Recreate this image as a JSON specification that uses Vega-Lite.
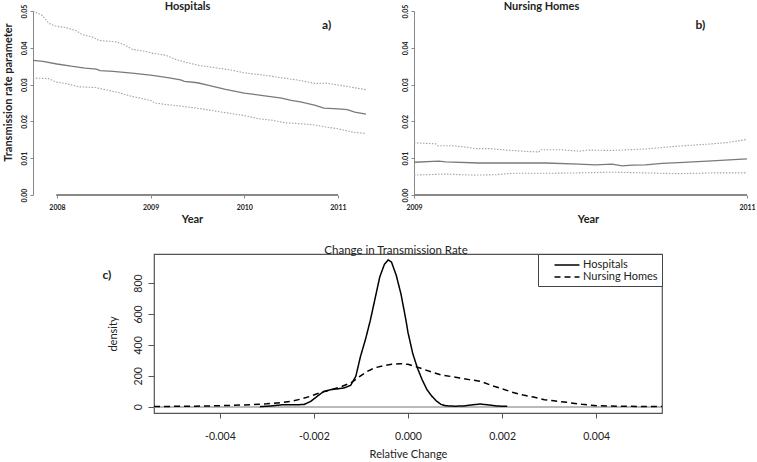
{
  "$schema": "https://vega.github.io/schema/vega-lite/v6.json",
  "padding": {"left": 2, "top": 0, "right": 0, "bottom": 0},
  "autosize": {"type": "pad"},
  "background": "white",
  "config": {
    "font": "Lato",
    "view": {"stroke": null},
    "axis": {"grid": false, "labelColor": "#222", "titleColor": "#222", "domainColor": "#888", "tickColor": "#888", "labelOverlap": false, "labelFlush": false, "labelBound": false, "tickCount": 20},
    "title": {"fontSize": 11, "fontWeight": "bold", "color": "#222", "offset": -7.5}
  },
  "datasets": {
    "hosp": [
      {"year": 2007.744, "value": 0.0366, "series": "mean"},
      {"year": 2007.85, "value": 0.0363, "series": "mean"},
      {"year": 2008.0, "value": 0.0356, "series": "mean"},
      {"year": 2008.15, "value": 0.035, "series": "mean"},
      {"year": 2008.3, "value": 0.0345, "series": "mean"},
      {"year": 2008.42, "value": 0.0342, "series": "mean"},
      {"year": 2008.46, "value": 0.0338, "series": "mean"},
      {"year": 2008.6, "value": 0.0336, "series": "mean"},
      {"year": 2008.8, "value": 0.0331, "series": "mean"},
      {"year": 2009.0, "value": 0.0326, "series": "mean"},
      {"year": 2009.2, "value": 0.0318, "series": "mean"},
      {"year": 2009.32, "value": 0.0313, "series": "mean"},
      {"year": 2009.36, "value": 0.0309, "series": "mean"},
      {"year": 2009.5, "value": 0.0305, "series": "mean"},
      {"year": 2009.62, "value": 0.0298, "series": "mean"},
      {"year": 2009.8, "value": 0.0287, "series": "mean"},
      {"year": 2010.0, "value": 0.0277, "series": "mean"},
      {"year": 2010.2, "value": 0.027, "series": "mean"},
      {"year": 2010.4, "value": 0.0263, "series": "mean"},
      {"year": 2010.5, "value": 0.0257, "series": "mean"},
      {"year": 2010.6, "value": 0.0253, "series": "mean"},
      {"year": 2010.75, "value": 0.0244, "series": "mean"},
      {"year": 2010.85, "value": 0.0236, "series": "mean"},
      {"year": 2011.0, "value": 0.0234, "series": "mean"},
      {"year": 2011.1, "value": 0.0232, "series": "mean"},
      {"year": 2011.18, "value": 0.0225, "series": "mean"},
      {"year": 2011.3, "value": 0.022, "series": "mean"},
      {"year": 2007.744, "value": 0.05, "series": "upper"},
      {"year": 2007.843, "value": 0.0488, "series": "upper"},
      {"year": 2007.915, "value": 0.0466, "series": "upper"},
      {"year": 2007.986, "value": 0.0459, "series": "upper"},
      {"year": 2008.09, "value": 0.0455, "series": "upper"},
      {"year": 2008.2, "value": 0.0447, "series": "upper"},
      {"year": 2008.27, "value": 0.0436, "series": "upper"},
      {"year": 2008.38, "value": 0.0429, "series": "upper"},
      {"year": 2008.45, "value": 0.042, "series": "upper"},
      {"year": 2008.63, "value": 0.0416, "series": "upper"},
      {"year": 2008.73, "value": 0.0407, "series": "upper"},
      {"year": 2008.8, "value": 0.0396, "series": "upper"},
      {"year": 2008.95, "value": 0.039, "series": "upper"},
      {"year": 2009.0, "value": 0.0386, "series": "upper"},
      {"year": 2009.16, "value": 0.038, "series": "upper"},
      {"year": 2009.27, "value": 0.0368, "series": "upper"},
      {"year": 2009.37, "value": 0.0361, "series": "upper"},
      {"year": 2009.52, "value": 0.0352, "series": "upper"},
      {"year": 2009.69, "value": 0.0346, "series": "upper"},
      {"year": 2009.87, "value": 0.0339, "series": "upper"},
      {"year": 2010.0, "value": 0.0332, "series": "upper"},
      {"year": 2010.23, "value": 0.0325, "series": "upper"},
      {"year": 2010.41, "value": 0.0318, "series": "upper"},
      {"year": 2010.58, "value": 0.0312, "series": "upper"},
      {"year": 2010.76, "value": 0.0303, "series": "upper"},
      {"year": 2010.87, "value": 0.0304, "series": "upper"},
      {"year": 2011.0, "value": 0.0299, "series": "upper"},
      {"year": 2011.12, "value": 0.0294, "series": "upper"},
      {"year": 2011.3, "value": 0.0286, "series": "upper"},
      {"year": 2007.744, "value": 0.0318, "series": "lower"},
      {"year": 2007.915, "value": 0.0316, "series": "lower"},
      {"year": 2007.986, "value": 0.0307, "series": "lower"},
      {"year": 2008.09, "value": 0.0303, "series": "lower"},
      {"year": 2008.235, "value": 0.0294, "series": "lower"},
      {"year": 2008.41, "value": 0.0292, "series": "lower"},
      {"year": 2008.63, "value": 0.028, "series": "lower"},
      {"year": 2008.8, "value": 0.0268, "series": "lower"},
      {"year": 2009.0, "value": 0.0257, "series": "lower"},
      {"year": 2009.05, "value": 0.025, "series": "lower"},
      {"year": 2009.16, "value": 0.0246, "series": "lower"},
      {"year": 2009.34, "value": 0.0241, "series": "lower"},
      {"year": 2009.52, "value": 0.0235, "series": "lower"},
      {"year": 2009.69, "value": 0.0228, "series": "lower"},
      {"year": 2009.87, "value": 0.0221, "series": "lower"},
      {"year": 2010.0, "value": 0.0216, "series": "lower"},
      {"year": 2010.16, "value": 0.0207, "series": "lower"},
      {"year": 2010.3, "value": 0.0203, "series": "lower"},
      {"year": 2010.44, "value": 0.0196, "series": "lower"},
      {"year": 2010.58, "value": 0.0194, "series": "lower"},
      {"year": 2010.73, "value": 0.0191, "series": "lower"},
      {"year": 2010.87, "value": 0.0185, "series": "lower"},
      {"year": 2011.0, "value": 0.018, "series": "lower"},
      {"year": 2011.15, "value": 0.0171, "series": "lower"},
      {"year": 2011.3, "value": 0.0167, "series": "lower"}
    ],
    "nh": [
      {"year": 2009.0, "value": 0.0142, "series": "upper"},
      {"year": 2009.13, "value": 0.0139, "series": "upper"},
      {"year": 2009.14, "value": 0.0134, "series": "upper"},
      {"year": 2009.23, "value": 0.0134, "series": "upper"},
      {"year": 2009.33, "value": 0.0129, "series": "upper"},
      {"year": 2009.37, "value": 0.0126, "series": "upper"},
      {"year": 2009.45, "value": 0.0126, "series": "upper"},
      {"year": 2009.59, "value": 0.0121, "series": "upper"},
      {"year": 2009.69, "value": 0.0118, "series": "upper"},
      {"year": 2009.75, "value": 0.0117, "series": "upper"},
      {"year": 2009.76, "value": 0.0123, "series": "upper"},
      {"year": 2009.89, "value": 0.0123, "series": "upper"},
      {"year": 2009.99, "value": 0.0119, "series": "upper"},
      {"year": 2010.05, "value": 0.0122, "series": "upper"},
      {"year": 2010.19, "value": 0.0121, "series": "upper"},
      {"year": 2010.39, "value": 0.0125, "series": "upper"},
      {"year": 2010.49, "value": 0.0129, "series": "upper"},
      {"year": 2010.59, "value": 0.0133, "series": "upper"},
      {"year": 2010.69, "value": 0.0136, "series": "upper"},
      {"year": 2010.79, "value": 0.0139, "series": "upper"},
      {"year": 2010.89, "value": 0.0143, "series": "upper"},
      {"year": 2011.0, "value": 0.0151, "series": "upper"},
      {"year": 2009.0, "value": 0.0089, "series": "mean"},
      {"year": 2009.15, "value": 0.0092, "series": "mean"},
      {"year": 2009.19, "value": 0.009, "series": "mean"},
      {"year": 2009.39, "value": 0.0087, "series": "mean"},
      {"year": 2009.59, "value": 0.0087, "series": "mean"},
      {"year": 2009.79, "value": 0.0087, "series": "mean"},
      {"year": 2009.99, "value": 0.0084, "series": "mean"},
      {"year": 2010.09, "value": 0.0082, "series": "mean"},
      {"year": 2010.19, "value": 0.0084, "series": "mean"},
      {"year": 2010.25, "value": 0.0079, "series": "mean"},
      {"year": 2010.31, "value": 0.0081, "series": "mean"},
      {"year": 2010.39, "value": 0.0082, "series": "mean"},
      {"year": 2010.49, "value": 0.0086, "series": "mean"},
      {"year": 2010.59, "value": 0.0088, "series": "mean"},
      {"year": 2010.79, "value": 0.0093, "series": "mean"},
      {"year": 2011.0, "value": 0.0098, "series": "mean"},
      {"year": 2009.0, "value": 0.0054, "series": "lower"},
      {"year": 2009.19, "value": 0.0057, "series": "lower"},
      {"year": 2009.35, "value": 0.0054, "series": "lower"},
      {"year": 2009.49, "value": 0.0055, "series": "lower"},
      {"year": 2009.59, "value": 0.0059, "series": "lower"},
      {"year": 2009.79, "value": 0.0059, "series": "lower"},
      {"year": 2009.99, "value": 0.006, "series": "lower"},
      {"year": 2010.19, "value": 0.0062, "series": "lower"},
      {"year": 2010.39, "value": 0.006, "series": "lower"},
      {"year": 2010.59, "value": 0.0058, "series": "lower"},
      {"year": 2010.79, "value": 0.006, "series": "lower"},
      {"year": 2011.0, "value": 0.006, "series": "lower"}
    ],
    "dens": [
      {"change": -0.00315, "density": 0, "series": "Hospitals"},
      {"change": -0.0029, "density": 5, "series": "Hospitals"},
      {"change": -0.00264, "density": 13, "series": "Hospitals"},
      {"change": -0.0024, "density": 12, "series": "Hospitals"},
      {"change": -0.00221, "density": 14, "series": "Hospitals"},
      {"change": -0.00207, "density": 34, "series": "Hospitals"},
      {"change": -0.00193, "density": 67, "series": "Hospitals"},
      {"change": -0.00179, "density": 99, "series": "Hospitals"},
      {"change": -0.00165, "density": 110, "series": "Hospitals"},
      {"change": -0.0015, "density": 115, "series": "Hospitals"},
      {"change": -0.00135, "density": 122, "series": "Hospitals"},
      {"change": -0.00122, "density": 138, "series": "Hospitals"},
      {"change": -0.00111, "density": 196, "series": "Hospitals"},
      {"change": -0.00101, "density": 325, "series": "Hospitals"},
      {"change": -0.0009, "density": 440, "series": "Hospitals"},
      {"change": -0.0008, "density": 560, "series": "Hospitals"},
      {"change": -0.0007, "density": 700, "series": "Hospitals"},
      {"change": -0.0006, "density": 840, "series": "Hospitals"},
      {"change": -0.0005, "density": 922, "series": "Hospitals"},
      {"change": -0.00042, "density": 950, "series": "Hospitals"},
      {"change": -0.00035, "density": 935, "series": "Hospitals"},
      {"change": -0.00025, "density": 850, "series": "Hospitals"},
      {"change": -0.00015, "density": 730, "series": "Hospitals"},
      {"change": -0.00005, "density": 570, "series": "Hospitals"},
      {"change": 0.0, "density": 480, "series": "Hospitals"},
      {"change": 0.0001, "density": 345, "series": "Hospitals"},
      {"change": 0.0002, "density": 250, "series": "Hospitals"},
      {"change": 0.0003, "density": 175, "series": "Hospitals"},
      {"change": 0.0004, "density": 112, "series": "Hospitals"},
      {"change": 0.0005, "density": 70, "series": "Hospitals"},
      {"change": 0.0006, "density": 38, "series": "Hospitals"},
      {"change": 0.0007, "density": 15, "series": "Hospitals"},
      {"change": 0.0008, "density": 6, "series": "Hospitals"},
      {"change": 0.001, "density": 3, "series": "Hospitals"},
      {"change": 0.0012, "density": 5, "series": "Hospitals"},
      {"change": 0.0014, "density": 13, "series": "Hospitals"},
      {"change": 0.00154, "density": 17, "series": "Hospitals"},
      {"change": 0.00175, "density": 10, "series": "Hospitals"},
      {"change": 0.0019, "density": 4, "series": "Hospitals"},
      {"change": 0.00211, "density": 2, "series": "Hospitals"},
      {"change": -0.0054, "density": 1, "series": "Nursing Homes"},
      {"change": -0.005, "density": 2, "series": "Nursing Homes"},
      {"change": -0.0045, "density": 3, "series": "Nursing Homes"},
      {"change": -0.00405, "density": 6, "series": "Nursing Homes"},
      {"change": -0.0037, "density": 9, "series": "Nursing Homes"},
      {"change": -0.00334, "density": 13, "series": "Nursing Homes"},
      {"change": -0.003, "density": 19, "series": "Nursing Homes"},
      {"change": -0.00264, "density": 28, "series": "Nursing Homes"},
      {"change": -0.00245, "density": 37, "series": "Nursing Homes"},
      {"change": -0.00228, "density": 49, "series": "Nursing Homes"},
      {"change": -0.0021, "density": 65, "series": "Nursing Homes"},
      {"change": -0.00193, "density": 84, "series": "Nursing Homes"},
      {"change": -0.00175, "density": 100, "series": "Nursing Homes"},
      {"change": -0.00158, "density": 114, "series": "Nursing Homes"},
      {"change": -0.0014, "density": 132, "series": "Nursing Homes"},
      {"change": -0.00122, "density": 153, "series": "Nursing Homes"},
      {"change": -0.00105, "density": 190, "series": "Nursing Homes"},
      {"change": -0.00087, "density": 228, "series": "Nursing Homes"},
      {"change": -0.0007, "density": 252, "series": "Nursing Homes"},
      {"change": -0.00051, "density": 266, "series": "Nursing Homes"},
      {"change": -0.00035, "density": 274, "series": "Nursing Homes"},
      {"change": -0.00016, "density": 278, "series": "Nursing Homes"},
      {"change": 0.0, "density": 274, "series": "Nursing Homes"},
      {"change": 0.00014, "density": 262, "series": "Nursing Homes"},
      {"change": 0.0003, "density": 245, "series": "Nursing Homes"},
      {"change": 0.0005, "density": 225, "series": "Nursing Homes"},
      {"change": 0.0007, "density": 206, "series": "Nursing Homes"},
      {"change": 0.0009, "density": 196, "series": "Nursing Homes"},
      {"change": 0.0011, "density": 185, "series": "Nursing Homes"},
      {"change": 0.0013, "density": 175, "series": "Nursing Homes"},
      {"change": 0.00154, "density": 164, "series": "Nursing Homes"},
      {"change": 0.00175, "density": 140, "series": "Nursing Homes"},
      {"change": 0.00196, "density": 120, "series": "Nursing Homes"},
      {"change": 0.0022, "density": 95, "series": "Nursing Homes"},
      {"change": 0.00245, "density": 75, "series": "Nursing Homes"},
      {"change": 0.00267, "density": 62, "series": "Nursing Homes"},
      {"change": 0.0029, "density": 45, "series": "Nursing Homes"},
      {"change": 0.0031, "density": 38, "series": "Nursing Homes"},
      {"change": 0.00338, "density": 28, "series": "Nursing Homes"},
      {"change": 0.0037, "density": 15, "series": "Nursing Homes"},
      {"change": 0.00402, "density": 6, "series": "Nursing Homes"},
      {"change": 0.0045, "density": 3, "series": "Nursing Homes"},
      {"change": 0.005, "density": 1, "series": "Nursing Homes"},
      {"change": 0.0054, "density": 1, "series": "Nursing Homes"}
    ]
  },
  "vconcat": [
    {
      "hconcat": [
        {
          "width": 333,
          "height": 184,
          "title": {"text": "Hospitals", "dx": -12},
          "data": {"name": "hosp"},
          "encoding": {
            "x": {"field": "year", "type": "quantitative", "scale": {"domain": [2007.744, 2011.3], "nice": false, "zero": false},
              "axis": {"values": [2008, 2009, 2010, 2011], "tickCount": 20, "format": "d", "labelOverlap": false, "labelFontSize": 7, "labelFontWeight": "bold", "tickSize": 3, "labelPadding": 5, "domain": false, "title": "Year", "titleFontSize": 11, "titleFontWeight": "bold", "titlePadding": 3, "titleX": 159}},
            "y": {"field": "value", "type": "quantitative", "scale": {"domain": [0, 0.05], "nice": false},
              "axis": {"values": [0, 0.01, 0.02, 0.03, 0.04, 0.05], "tickCount": 20, "format": ".2f", "labelOverlap": false, "labelAngle": -90, "labelAlign": "center", "labelBaseline": "bottom", "labelFontSize": 7, "labelFontWeight": "bold", "tickSize": 3, "labelPadding": 2.5, "title": "Transmission rate parameter", "titleFontSize": 11, "titleFontWeight": "bold", "titlePadding": 7.5, "titleY": 81}}
          },
          "layer": [
            {
              "transform": [{"filter": "datum.series != 'mean'"}],
              "mark": {"type": "line", "strokeWidth": 1.1, "color": "#a3a3a3", "strokeDash": [1.5, 1.5]},
              "encoding": {"detail": {"field": "series", "type": "nominal"}}
            },
            {
              "transform": [{"filter": "datum.series == 'mean'"}],
              "mark": {"type": "line", "strokeWidth": 1.3, "color": "#7a7a7a"},
              "encoding": {}
            },
            {
              "mark": {"type": "rule", "color": "#888"},
              "encoding": {"x": {"datum": 2008, "type": "quantitative"}, "x2": {"datum": 2011}, "y": {"datum": 0, "type": "quantitative"}}
            },
            {
              "data": {"values": [{"year": 2010.88, "value": 0.0462, "lbl": "a)"}]},
              "mark": {"type": "text", "fontSize": 12, "fontWeight": "bold", "color": "#222"},
              "encoding": {"text": {"field": "lbl"}}
            }
          ]
        },
        {
          "width": 333,
          "height": 184,
          "title": {"text": "Nursing Homes", "dx": -39},
          "data": {"name": "nh"},
          "encoding": {
            "x": {"field": "year", "type": "quantitative", "scale": {"domain": [2009, 2011], "nice": false, "zero": false},
              "axis": {"values": [2009, 2010, 2011], "tickCount": 20, "format": "d", "labelOverlap": false, "labelFontSize": 7, "labelFontWeight": "bold", "tickSize": 3, "labelPadding": 5, "domain": false, "title": "Year", "titleFontSize": 11, "titleFontWeight": "bold", "titlePadding": 3, "titleX": 174}},
            "y": {"field": "value", "type": "quantitative", "scale": {"domain": [0, 0.05], "nice": false},
              "axis": {"values": [0, 0.01, 0.02, 0.03, 0.04, 0.05], "tickCount": 20, "format": ".2f", "labelOverlap": false, "labelAngle": -90, "labelAlign": "center", "labelBaseline": "bottom", "labelFontSize": 7, "labelFontWeight": "bold", "tickSize": 3, "labelPadding": 2.5, "title": null}}
          },
          "layer": [
            {
              "transform": [{"filter": "datum.series != 'mean'"}],
              "mark": {"type": "line", "strokeWidth": 1.1, "color": "#a3a3a3", "strokeDash": [1.5, 1.5]},
              "encoding": {"detail": {"field": "series", "type": "nominal"}}
            },
            {
              "transform": [{"filter": "datum.series == 'mean'"}],
              "mark": {"type": "line", "strokeWidth": 1.3, "color": "#7a7a7a"},
              "encoding": {}
            },
            {
              "mark": {"type": "rule", "color": "#888"},
              "encoding": {"x": {"datum": 2009, "type": "quantitative"}, "x2": {"datum": 2011}, "y": {"datum": 0, "type": "quantitative"}}
            },
            {
              "data": {"values": [{"year": 2010.72, "value": 0.0462, "lbl": "b)"}]},
              "mark": {"type": "text", "fontSize": 12, "fontWeight": "bold", "color": "#222"},
              "encoding": {"text": {"field": "lbl"}}
            }
          ]
        }
      ],
      "spacing": 48,
      "bounds": "flush"
    },
    {
      "hconcat": [
        {
          "width": 121,
          "height": 159,
          "data": {"values": [{}]},
          "mark": {"type": "point", "opacity": 0},
          "encoding": {}
        },
        {
          "width": 508,
          "height": 159,
          "view": {"stroke": "#555", "strokeWidth": 1.2},
          "title": {"text": "Change in Transmission Rate", "fontWeight": "normal", "fontSize": 11.5, "dx": -12, "offset": -3},
          "data": {"name": "dens"},
          "encoding": {
            "x": {"field": "change", "type": "quantitative", "scale": {"domain": [-0.0054, 0.0054], "nice": false, "zero": false},
              "axis": {"values": [-0.004, -0.002, 0, 0.002, 0.004], "tickCount": 20, "labelOverlap": false, "labelExpr": "datum.value < 0 ? '-' + format(-datum.value, '.3f') : format(datum.value, '.3f')", "labelFontSize": 10.5, "tickSize": 5, "tickColor": "#555", "labelPadding": 13, "domain": false, "title": "Relative Change", "titleFontSize": 11, "titleFontWeight": "normal", "titlePadding": 7}},
            "y": {"field": "density", "type": "quantitative", "scale": {"domain": [-41, 988], "nice": false},
              "axis": {"values": [0, 200, 400, 600, 800], "tickCount": 20, "labelOverlap": false, "labelAngle": -90, "labelAlign": "center", "labelBaseline": "bottom", "labelFontSize": 10.5, "tickSize": 6, "tickColor": "#555", "labelPadding": 5, "domain": false, "title": "density", "titleFontSize": 11, "titleFontWeight": "normal", "titlePadding": 15}}
          },
          "layer": [
            {
              "mark": {"type": "rule", "color": "#bbb"},
              "encoding": {"x": null, "y": {"datum": 0, "type": "quantitative"}}
            },
            {
              "mark": {"type": "line", "color": "black", "strokeWidth": 1.5},
              "encoding": {
                "strokeDash": {"field": "series", "type": "nominal", "scale": {"domain": ["Hospitals", "Nursing Homes"], "range": [[1, 0], [6, 4]]},
                  "legend": {"orient": "top-right", "offset": 0, "title": null, "strokeColor": "#444", "fillColor": "white", "padding": 4, "symbolType": "M-2,0L2,0", "symbolSize": 156, "symbolStrokeWidth": 1.5, "symbolStrokeColor": "black", "labelFontSize": 11, "labelColor": "#222", "labelOffset": 9, "symbolOffset": 18, "rowPadding": 0, "labelExpr": "datum.label + '            '"}}
              }
            },
            {
              "data": {"values": [{"change": -0.0064, "density": 850, "lbl": "c)"}]},
              "mark": {"type": "text", "fontSize": 12, "fontWeight": "bold", "color": "#222"},
              "encoding": {"text": {"field": "lbl"}}
            }
          ]
        }
      ],
      "spacing": 0,
      "bounds": "flush",
      "resolve": {"scale": {"strokeDash": "independent"}, "legend": {"strokeDash": "independent"}}
    }
  ],
  "spacing": 20,
  "resolve": {"scale": {"strokeDash": "independent"}, "legend": {"strokeDash": "independent"}}
}
